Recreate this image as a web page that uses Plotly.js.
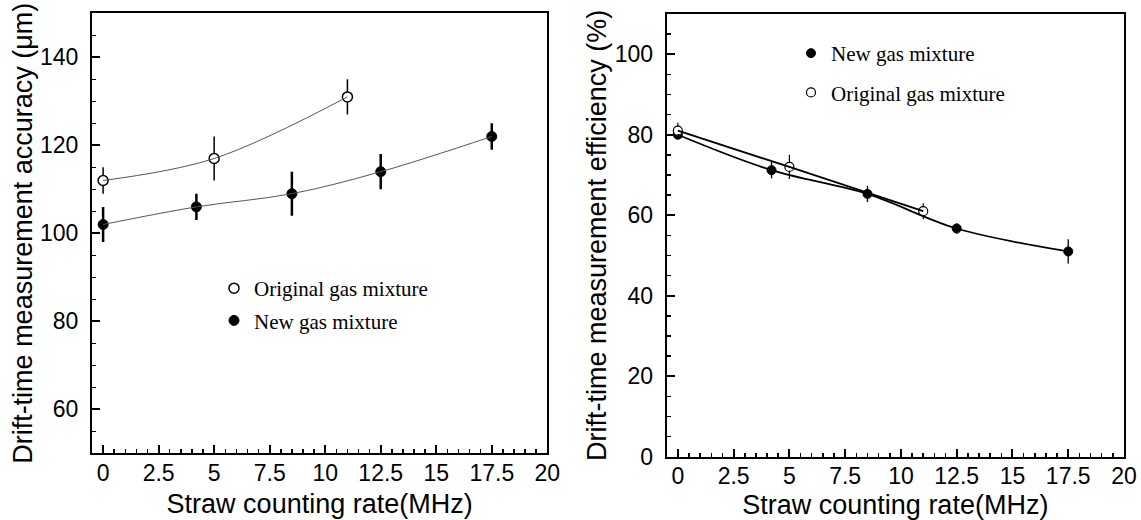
<!DOCTYPE html>
<html>
<head>
<meta charset="utf-8">
<script src="https://cdn.plot.ly/plotly-3.0.1.min.js"></script>
<style>html,body{margin:0;padding:0;background:#fff;}#chart{width:1141px;height:520px;}</style>
</head>
<body>
<div id="chart"></div>
<script>
// Left panel: drift-time measurement accuracy (µm)
const rateOrig = [0, 5, 11];
const accOrig = [112, 117, 131];
const accOrigErr = [3, 5, 4];
const rateNew = [0, 4.2, 8.5, 12.5, 17.5];
const accNew = [102, 106, 109, 114, 122];
const accNewErr = [4, 3, 5, 4, 3];
// Right panel: drift-time measurement efficiency (%)
const effNew = [80, 71.2, 65.3, 56.7, 51];
const effNewErr = [1, 2, 2, 1.3, 3];
const effOrig = [81, 72, 61];
const effOrigErr = [2, 3, 2];

const labelOrig = 'Original gas mixture';
const labelNew = 'New gas mixture';
const xTitle = 'Straw counting rate(MHz)';
const yTitleLeft = 'Drift-time measurement accuracy (\u03bcm)';
const yTitleRight = 'Drift-time measurement efficiency (%)';

const W = 1141, H = 520;
const px = v => v / W;
const py = v => (H - v) / H;

const traces = [
  // left markers
  {x: rateOrig, y: accOrig, xaxis: 'x', yaxis: 'y', mode: 'markers', name: labelOrig,
   legend: 'legend', legendgroup: 'lo', legendrank: 1,
   marker: {symbol: 'circle', size: 10, color: '#ffffff', line: {color: '#000', width: 1.5}},
   error_y: {type: 'data', array: accOrigErr, visible: true, color: '#000', thickness: 1.5, width: 0}},
  {x: rateNew, y: accNew, xaxis: 'x', yaxis: 'y', mode: 'markers', name: labelNew,
   legend: 'legend', legendgroup: 'ln', legendrank: 2,
   marker: {symbol: 'circle', size: 10, color: '#000', line: {color: '#000', width: 1}},
   error_y: {type: 'data', array: accNewErr, visible: true, color: '#000', thickness: 2.5, width: 0}},
  // left curves
  {x: rateOrig, y: accOrig, xaxis: 'x', yaxis: 'y', mode: 'lines', showlegend: false, hoverinfo: 'skip',
   line: {shape: 'spline', smoothing: 1, color: '#555', width: 1}},
  {x: rateNew, y: accNew, xaxis: 'x', yaxis: 'y', mode: 'lines', showlegend: false, hoverinfo: 'skip',
   line: {shape: 'spline', smoothing: 1, color: '#555', width: 1}},
  // right markers
  {x: rateNew, y: effNew, xaxis: 'x2', yaxis: 'y2', mode: 'markers', name: labelNew,
   legend: 'legend2', legendgroup: 'rn', legendrank: 1,
   marker: {symbol: 'circle', size: 9, color: '#000', line: {color: '#000', width: 1}},
   error_y: {type: 'data', array: effNewErr, visible: true, color: '#000', thickness: 1.3, width: 0}},
  {x: rateOrig, y: effOrig, xaxis: 'x2', yaxis: 'y2', mode: 'markers', name: labelOrig,
   legend: 'legend2', legendgroup: 'ro', legendrank: 2,
   marker: {symbol: 'circle', size: 9, color: '#ffffff', line: {color: '#000', width: 1.2}},
   error_y: {type: 'data', array: effOrigErr, visible: true, color: '#000', thickness: 1.2, width: 0}},
  // right curves
  {x: rateNew, y: effNew, xaxis: 'x2', yaxis: 'y2', mode: 'lines', showlegend: false, hoverinfo: 'skip',
   line: {shape: 'spline', smoothing: 1, color: '#000', width: 1.8}},
  {x: rateOrig, y: effOrig, xaxis: 'x2', yaxis: 'y2', mode: 'lines', showlegend: false, hoverinfo: 'skip',
   line: {shape: 'spline', smoothing: 1, color: '#000', width: 1.8}}
];

const tickFont = {family: 'Liberation Sans, Arial, sans-serif', size: 23, color: '#000'};
const titleFont = {family: 'Liberation Sans, Arial, sans-serif', size: 27, color: '#000'};
const legendFont = {family: 'Liberation Serif, Times New Roman, serif', size: 21, color: '#000'};

function xAxis(domain, anchor) {
  return {
    domain: domain, anchor: anchor, range: [-0.5, 20], dtick: 2.5, tick0: 0,
    ticks: 'inside', ticklen: 8, tickwidth: 2, tickcolor: '#000',
    minor: {dtick: 0.5, tick0: 0, ticks: 'inside', ticklen: 4, tickwidth: 1.5, tickcolor: '#000'},
    showline: true, linecolor: '#000', linewidth: 2, mirror: true,
    showgrid: false, zeroline: false, tickfont: tickFont, ticklabelstandoff: -2,
    title: {text: xTitle, font: titleFont, standoff: 9}
  };
}
function yAxis(domain, anchor, range, title) {
  return {
    domain: domain, anchor: anchor, range: range, dtick: 20, tick0: 0,
    ticks: 'inside', ticklen: 8, tickwidth: 2, tickcolor: '#000',
    minor: {dtick: 5, tick0: 0, ticks: 'inside', ticklen: 4, tickwidth: 1.5, tickcolor: '#000'},
    showline: true, linecolor: '#000', linewidth: 2, mirror: true,
    showgrid: false, zeroline: false, tickfont: tickFont, ticklabelstandoff: 7,
    title: {text: title, font: titleFont, standoff: 0}
  };
}

const layout = {
  width: W, height: H,
  margin: {l: 0, r: 0, t: 0, b: 0},
  paper_bgcolor: '#fff', plot_bgcolor: '#fff',
  xaxis: xAxis([px(92), px(547.3)], 'y'),
  yaxis: yAxis([py(453.3), py(13.3)], 'x', [50, 150], yTitleLeft),
  xaxis2: xAxis([px(666.7), px(1124)], 'y2'),
  yaxis2: yAxis([py(456.7), py(14)], 'x2', [0, 110], yTitleRight),
  legend: {x: px(214), y: py(268), xanchor: 'left', yanchor: 'top', font: legendFont,
           bgcolor: 'rgba(0,0,0,0)', borderwidth: 0, traceorder: 'grouped', tracegroupgap: 2, itemsizing: 'trace'},
  legend2: {x: px(791), y: py(33), xanchor: 'left', yanchor: 'top', font: legendFont,
           bgcolor: 'rgba(0,0,0,0)', borderwidth: 0, traceorder: 'grouped', tracegroupgap: 9, itemsizing: 'trace'},
  showlegend: true
};

Plotly.newPlot('chart', traces, layout, {displayModeBar: false, staticPlot: true});
</script>
</body>
</html>
